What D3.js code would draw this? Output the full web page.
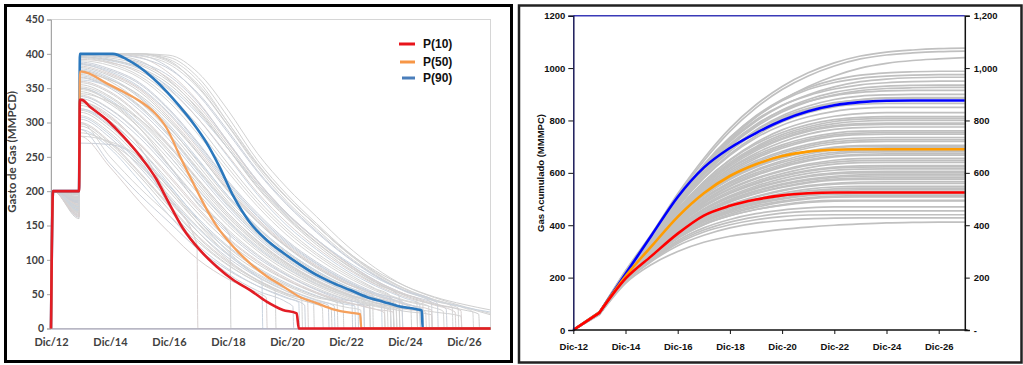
<!DOCTYPE html>
<html><head><meta charset="utf-8">
<script src="https://cdn.jsdelivr.net/npm/d3@7/dist/d3.min.js"></script>
<style>body{margin:0;background:#fff}svg{display:block}</style>
</head><body>
<svg id="c" width="1023" height="365"></svg>
<script>
// ---------------- DATA ----------------
// Left chart: gas rate (MMPCD); time in years after Dic/12
const rateXTicks = [0, 2, 4, 6, 8, 10, 12, 14];
const rateXLabels = ["Dic/12", "Dic/14", "Dic/16", "Dic/18", "Dic/20", "Dic/22", "Dic/24", "Dic/26"];
const rateYTicks = [0, 50, 100, 150, 200, 250, 300, 350, 400, 450];
const rateStepTimes = [0, 0.07, 0.95, 0.98];
const rateEndT = 14.9;

const rateP10 = [[0,0],[0.07,200],[0.95,200],[0.98,333],[1.04,333],[1.32,323],[1.89,304],[2.44,280],[3.02,251],[3.58,217],[3.92,189],[4.47,146],[5.05,114],[5.62,90],[6.17,71],[6.75,56],[7.31,39],[7.86,27],[8.33,22],[8.40,0],[14.9,0]];
const rateP50 = [[0,0],[0.07,200],[0.95,200],[0.98,374],[1.04,374],[1.89,357],[2.44,345],[3.02,331],[3.47,316],[3.92,292],[4.37,251],[4.82,212],[5.16,183],[5.62,149],[6.18,119],[6.75,95],[7.31,76],[7.88,61],[8.44,46],[9.0,37],[9.57,28],[10.14,23],[10.48,21],[10.52,0],[14.9,0]];
const rateP90 = [[0,0],[0.07,200],[0.95,200],[0.98,400],[2.1,400],[2.57,392],[3.02,380],[3.47,364],[3.92,345],[4.37,323],[4.82,299],[5.28,270],[5.73,234],[6.18,193],[6.75,154],[7.31,129],[7.88,110],[8.44,93],[9.0,78],[9.57,66],[10.14,56],[10.7,46],[11.26,39],[11.83,32],[12.4,28],[12.57,26],[12.6,0],[14.9,0]];

// simulated realizations: value at end of 2013 plateau, yearly values (Dic/13, Dic/14, ...), last point before shut-in [t, v]
const grayRatePre = [200,195,190,185,180,200,175,170,190,185,178,165,200,182,172,190,176,168,195,186,162,178,200,172,184,166,190,175,160,188,180,170,183,176,196,198,188,179,192,181,174,187,169,172,185,164,183,177,
  191,168,186,179,197,171,189,175,183,166,194,173,187,179,185,163,199,177,192,170];
const grayRateYearly = [
 [400,400,400,398,372,318,255,205,163,122,88,62,45,32],
 [400,400,400,392,360,300,240,190,150,112,80,57,40],
 [400,400,398,380,340,285,228,180,140,105,76,54],
 [400,400,395,372,330,272,215,168,130,97,70,50],
 [400,398,390,362,318,262,205,160,122,90,65],
 [398,392,380,350,305,250,195,150,115,85,62,44],
 [395,388,372,340,295,240,188,145,110,82,58],
 [390,383,365,330,282,228,178,136,103,76,55,40,30],
 [388,378,358,320,270,215,168,128,97,72,52],
 [385,372,350,312,262,207,160,122,92,68,50,37],
 [380,368,345,305,255,200,155,118,88,65],
 [378,365,338,297,246,193,148,112,84,62,45],
 [375,360,330,288,237,185,142,107,80,58,42,31,24],
 [370,355,325,282,230,180,137,103,77,56,41],
 [365,350,318,275,224,174,132,99,74,54],
 [360,345,312,268,217,168,128,96,71,52,38,28],
 [355,338,305,260,210,162,123,92,68,50,37],
 [350,333,298,252,202,156,118,88,65,48],
 [345,327,292,246,196,150,113,84,62,45,33,25],
 [340,320,285,238,188,144,108,80,59,43,32],
 [335,314,278,232,182,138,103,77,56,41],
 [330,308,270,224,175,132,99,73,53,39,28],
 [325,302,262,215,167,126,94,70,51,37],
 [320,296,255,208,160,120,89,66,48,35],
 [315,290,248,200,153,114,84,62,45],
 [310,285,242,194,147,109,80,58,42,31],
 [305,278,235,186,140,103,75,54,39],
 [300,272,228,180,134,98,71,51],
 [295,266,222,173,128,93,67,48,35],
 [290,262,215,165,120,87,62,44],
 [285,270,238,190,140,100,70],
 [280,272,250,205,152,108,76,54],
 [270,268,245,180,118,80,55,38],
 [330,310,265,190],
 [350,330,292,238,180],
 [320,300,262,210,158,112,75],
 [400,400,400,395,365,308,245,195,153,114,82,58,42,31],
 [400,400,397,385,350,295,235,185,145,108,78,55,40,30],
 [398,396,388,368,328,272,215,168,130,97,70,50,37],
 [392,387,375,348,305,252,198,154,118,88,64,46,34],
 [372,362,340,302,254,202,156,119,90,66,48,35],
 [362,352,330,292,244,193,148,112,84,62,45],
 [342,330,305,265,216,168,127,95,70,51,37],
 [300,250,205,165,125,92,68,50,36],
 [290,240,195,155,115,85,62,45],
 [280,235,185,140,100,72,52],
 [400,400,400,390,352,296,238,190,150,113,84,62,46,35],
 [396,390,378,352,312,262,210,166,130,99,74,55,41,31],
 [398,394,384,360,320,266,210,164,126,94,68,49],
 [394,386,368,335,288,234,183,141,107,79,57,41],
 [386,376,356,318,268,213,165,126,95,70,51],
 [382,370,348,308,258,204,158,120,90,66,48,35],
 [376,363,336,294,242,190,146,110,82,60,44],
 [368,353,322,280,228,178,135,101,75,55,40,30],
 [358,343,310,266,214,165,125,94,69,50],
 [352,336,302,257,206,158,120,90,66,48,35],
 [338,319,283,236,186,141,106,78,57,42],
 [328,306,268,221,172,130,97,71,52,38,28],
 [318,294,252,205,157,118,87,64,47],
 [308,282,240,191,145,107,78,57,41],
 [298,270,226,178,132,96,70,50],
 [400,400,399,388,355,300,240,191,150,112,81,58,42],
 [400,399,394,378,342,288,230,182,142,106,77,55,40],
 [400,397,386,364,324,270,213,167,129,96,69,50,36],
 [396,391,380,356,315,262,207,162,125,93,67,48,35,27],
 [384,374,352,314,265,210,163,124,94,69,50,36],
 [366,352,324,283,232,182,139,104,78,57,41],
 [348,331,296,252,201,154,116,87,64,47,34]
];
const grayRateEnd = [
 [14.9,22],[13.8,30],[12.9,38],[12.6,40],[11.8,48],[12.5,36],[11.5,48],[13.3,25],[11.6,42],[12.4,30],
 [10.9,50],[11.5,38],[13.9,18],[11.3,36],[10.6,44],[12.7,24],[11.8,30],[10.4,42],[12.9,20],[11.5,27],
 [10.2,40],[11.6,24],[10.8,33],[10.3,33],[9.7,38],[10.5,27],[9.4,34],[8.7,40],[9.5,29],[8.4,38],
 [7.6,55],[8.5,42],[8.2,32],[4.95,122],[6.07,135],[7.15,70],[14.9,20],[14.3,24],[13.4,28],[13.7,24],
 [12.2,30],[11.2,40],[11.9,26],[9.2,30],[8.6,34],[7.3,45],[14.9,27],[14.9,24],
 [12.4,44],[12.8,33],[11.9,40],[12.9,27],[11.7,36],[12.5,25],[10.8,40],[11.4,31],[10.6,34],[11.3,23],
 [9.9,36],[9.6,33],[8.9,37],[13.6,32],[13.1,36],[13.9,26],[14.5,21],[12.6,28],[11.6,33],[11.7,28]
];

// Right chart: cumulative gas (MMMPC), yearly from Dic-12
const cumXTicks = [0, 2, 4, 6, 8, 10, 12, 14];
const cumXLabels = ["Dic-12", "Dic-14", "Dic-16", "Dic-18", "Dic-20", "Dic-22", "Dic-24", "Dic-26"];
const cumYTicks = [0, 200, 400, 600, 800, 1000, 1200];
const cumYears = [0,1,2,3,4,5,6,7,8,9,10,11,12,13,14,15];
const cumP10 = [0,66,196,283,368,437,474,498,514,522,525,525,525,525,525,525];
const cumP50 = [0,67,205,320,432,522,588,633,664,681,688,690,690,690,690,690];
const cumP90 = [0,67,214,362,508,620,695,752,800,835,858,870,875,876,876,876];
const cumGray = [
 [0,67,226,368,520,655,770,860,930,982,1020,1046,1061,1069,1074,1076],
 [0,67,224,364,512,645,758,848,918,970,1008,1035,1050,1058,1063,1065],
 [0,66,220,354,496,622,728,812,878,930,970,1000,1018,1029,1035,1040],
 [0,67,222,358,504,632,735,815,875,918,945,961,969,973,975,975],
 [0,66,218,350,492,617,718,797,856,898,928,948,958,963,965,965],
 [0,66,220,354,498,624,724,802,858,895,920,936,944,948,950,950],
 [0,66,216,346,484,606,704,782,840,880,907,923,931,934,935,935],
 [0,67,219,352,492,614,710,785,838,873,895,907,913,915,915,915],
 [0,66,214,342,478,596,690,764,818,855,880,893,898,900,900,900],
 [0,66,216,345,482,598,690,760,812,846,868,879,884,885,885,885],
 [0,66,212,337,470,582,672,742,794,830,852,862,865,865,865,865],
 [0,66,214,340,472,580,667,734,782,814,835,846,850,850,850,850],
 [0,65,210,332,460,566,650,716,764,796,816,826,830,830,830,830],
 [0,66,212,336,462,566,648,710,754,784,803,812,815,815,815,815],
 [0,65,208,328,452,554,634,695,739,769,788,797,800,800,800,800],
 [0,66,210,332,455,555,632,690,732,762,780,788,790,790,790,790],
 [0,65,206,325,445,542,618,675,718,748,766,773,775,775,775,775],
 [0,65,208,328,448,543,615,668,707,735,752,759,760,760,760,760],
 [0,65,204,320,436,530,601,655,694,722,739,746,748,748,748,748],
 [0,65,206,322,438,528,596,646,682,709,726,733,735,735,735,735],
 [0,64,202,315,428,516,582,632,668,695,711,718,720,720,720,720],
 [0,65,204,318,430,515,578,625,658,683,698,704,705,705,705,705],
 [0,64,200,310,418,502,565,612,646,672,687,694,695,695,695,695],
 [0,64,202,312,420,500,558,600,632,657,672,679,680,680,680,680],
 [0,64,198,305,410,490,548,590,622,646,661,667,668,668,668,668],
 [0,64,200,307,410,486,540,580,610,633,648,654,655,655,655,655],
 [0,63,196,300,400,476,530,568,597,619,633,639,640,640,640,640],
 [0,64,198,302,400,472,524,562,590,610,622,627,628,628,628,628],
 [0,63,194,295,392,462,512,550,578,598,610,614,615,615,615,615],
 [0,63,196,296,390,458,505,540,566,585,596,600,600,600,600,600],
 [0,63,192,290,382,448,494,528,554,572,583,587,588,588,588,588],
 [0,63,194,290,380,444,488,520,544,562,572,575,575,575,575,575],
 [0,62,190,284,372,434,477,508,531,548,557,560,560,560,560,560],
 [0,63,192,286,370,430,470,500,522,538,546,548,548,548,548,548],
 [0,62,188,280,362,420,459,488,510,525,533,535,535,535,535,535],
 [0,62,190,280,360,416,453,480,500,513,519,520,520,520,520,520],
 [0,62,187,275,352,406,442,468,488,501,507,508,508,508,508,508],
 [0,62,188,276,350,402,436,460,478,490,495,495,495,495,495,495],
 [0,61,185,270,342,390,422,444,458,466,470,470,470,470,470,470],
 [0,61,186,268,336,382,412,432,446,453,455,455,455,455,455,455],
 [0,61,183,264,330,374,402,421,433,439,440,440,440,440,440,440],
 [0,60,184,262,322,362,390,408,418,424,427,428,428,428,428,428],
 [0,58,178,250,300,335,358,372,384,393,400,405,409,411,412,412],
 [0,66,211,334,458,560,640,700,746,776,796,805,808,808,808,808],
 [0,65,207,326,448,548,625,684,728,758,776,783,785,785,785,785],
 [0,65,205,324,442,536,608,661,700,728,745,752,754,754,754,754],
 [0,65,205,320,434,524,590,640,676,702,718,725,727,727,727,727],
 [0,64,203,316,428,512,575,622,656,680,695,701,702,702,702,702],
 [0,64,201,312,420,505,563,608,640,664,678,685,687,687,687,687],
 [0,64,199,308,414,494,552,594,626,650,664,671,673,673,673,673],
 [0,64,199,304,406,482,537,577,606,628,641,647,648,648,648,648],
 [0,63,197,300,398,470,521,558,586,606,618,622,623,623,623,623],
 [0,63,195,296,392,460,508,544,570,589,600,605,606,606,606,606],
 [0,63,193,292,386,452,498,532,558,576,587,592,593,593,593,593],
 [0,63,193,290,380,445,490,522,547,565,576,580,581,581,581,581],
 [0,62,191,286,374,437,480,510,534,551,560,565,566,566,566,566],
 [0,62,189,282,366,425,465,494,516,531,539,542,542,542,542,542],
 [0,62,189,280,360,418,456,484,504,518,525,527,527,527,527,527],
 [0,62,188,278,356,411,448,474,492,505,511,513,513,513,513,513],
 [0,61,187,274,350,402,436,460,476,487,492,493,493,493,493,493],
 [0,66,214,342,476,590,682,752,806,842,866,880,886,887,887,887],
 [0,66,216,346,482,602,700,776,832,872,898,914,922,925,926,926],
 [0,67,220,354,500,628,734,818,880,925,955,973,982,986,988,988]
];

// ---------------- DRAW ----------------
const svg = d3.select('#c');
const LF = 'Lato, "Open Sans", sans-serif';
const AF = '"Liberation Sans", Arial, sans-serif';

// ===== Left panel =====
const xL = d3.scaleLinear().domain([0, rateEndT]).range([51, 490.5]);
const yL = d3.scaleLinear().domain([0, 450]).range([328.5, 19.5]);
const gL = svg.append('g');

gL.append('rect').attr('x', xL(0)).attr('y', yL(450)).attr('width', xL(rateEndT) - xL(0)).attr('height', yL(0) - yL(450))
  .attr('fill', 'none').attr('stroke', '#d6d6d6').attr('stroke-width', 1);

const lineL = d3.line().x(d => xL(d[0])).y(d => yL(d[1])).curve(d3.curveMonotoneX);
const grayTints = ['#d2d2d2', '#d6d6d6', '#cbd0d9', '#d8d1d1', '#cfcfcf', '#cad4df'];
grayRateYearly.forEach((ys, i) => {
  const pts = [[rateStepTimes[0], 0], [rateStepTimes[1], 200], [rateStepTimes[2], grayRatePre[i]]];
  ys.forEach((v, k) => pts.push([k === 0 ? rateStepTimes[3] : k + 1, v]));
  const e = grayRateEnd[i];
  pts.push(e);
  if (e[0] < rateEndT - 0.05) { pts.push([e[0] + 0.03, 0]); pts.push([rateEndT, 0]); }
  gL.append('path').attr('d', lineL(pts)).attr('fill', 'none')
    .attr('stroke', grayTints[i % grayTints.length]).attr('stroke-width', 1);
});

// axes
const axL = gL.append('g').attr('transform', `translate(${xL(0)},0)`)
  .call(d3.axisLeft(yL).tickValues(rateYTicks).tickSize(4).tickPadding(3));
axL.select('.domain').attr('stroke', '#a6a6a6');
axL.selectAll('.tick line').attr('stroke', '#a6a6a6');
axL.selectAll('text').attr('font-family', LF).attr('font-weight', 700).attr('font-size', 10.5).attr('fill', '#404040');

const axB = gL.append('g').attr('transform', `translate(0,${yL(0)})`)
  .call(d3.axisBottom(xL).tickValues(rateXTicks).tickFormat((d, i) => rateXLabels[i]).tickSize(0).tickPadding(10));
axB.select('.domain').attr('stroke', '#9a98b0');
axB.selectAll('text').attr('font-family', LF).attr('font-weight', 700).attr('font-size', 11).attr('fill', '#404040');

gL.append('path').attr('d', lineL(rateP90)).attr('fill', 'none').attr('stroke', '#2b78bd').attr('stroke-width', 2.6);
gL.append('path').attr('d', lineL(rateP50)).attr('fill', 'none').attr('stroke', '#f5a05c').attr('stroke-width', 2.3);
gL.append('path').attr('d', lineL(rateP10)).attr('fill', 'none').attr('stroke', '#e21d25').attr('stroke-width', 2.6);

gL.append('text').attr('transform', `translate(16,152) rotate(-90)`).attr('text-anchor', 'middle')
  .attr('font-family', LF).attr('font-weight', 700).attr('font-size', 11.5).attr('fill', '#404040')
  .text('Gasto de Gas (MMPCD)');

// legend
const legItems = [{k: 'P(10)', c: '#e8141b', x0: 399, y: 44}, {k: 'P(50)', c: '#f79646', x0: 400, y: 62}, {k: 'P(90)', c: '#4a7ebb', x0: 402, y: 78}];
legItems.forEach(d => {
  gL.append('line').attr('x1', d.x0).attr('x2', 415).attr('y1', d.y).attr('y2', d.y).attr('stroke', d.c).attr('stroke-width', 3);
  gL.append('text').attr('x', 423).attr('y', d.y + 4.3).attr('font-family', AF).attr('font-weight', 700).attr('font-size', 12)
    .attr('fill', '#111').text(d.k);
});

// left frame
svg.append('rect').attr('x', 5.5).attr('y', 5.5).attr('width', 506).attr('height', 356).attr('fill', 'none')
  .attr('stroke', '#000').attr('stroke-width', 3);

// ===== Right panel =====
const xR = d3.scaleLinear().domain([0, 15]).range([573.3, 964.8]);
const yR = d3.scaleLinear().domain([0, 1200]).range([330, 15.7]);
const gR = svg.append('g');
const monoR = d3.line().x(d => xR(d[0])).y(d => yR(d[1])).curve(d3.curveMonotoneX);
// first year is a straight segment, the rest a smooth curve
function cumPath(arr) {
  const pts = arr.map((v, i) => [cumYears[i], v]);
  return `M${xR(pts[0][0])},${yR(pts[0][1])}` + monoR(pts.slice(1)).replace(/^M/, 'L');
}

cumGray.forEach(arr => {
  gR.append('path').attr('d', cumPath(arr)).attr('fill', 'none').attr('stroke', '#c0c0c0').attr('stroke-width', 1.7);
});
gR.append('path').attr('d', cumPath(cumP90)).attr('fill', 'none').attr('stroke', '#0000ff').attr('stroke-width', 2.6);
gR.append('path').attr('d', cumPath(cumP50)).attr('fill', 'none').attr('stroke', '#ff9c00').attr('stroke-width', 2.6);
gR.append('path').attr('d', cumPath(cumP10)).attr('fill', 'none').attr('stroke', '#ff0000').attr('stroke-width', 2.6);

// top border
gR.append('line').attr('x1', xR(0)).attr('x2', xR(15)).attr('y1', yR(1200)).attr('y2', yR(1200))
  .attr('stroke', '#3a3ab8').attr('stroke-width', 1.5);

const axRL = gR.append('g').attr('transform', `translate(${xR(0)},0)`)
  .call(d3.axisLeft(yR).tickValues(cumYTicks).tickSize(5).tickPadding(3).tickFormat(d3.format('d')));
axRL.select('.domain').attr('stroke', '#1c1c5a').attr('stroke-width', 1.5);
axRL.selectAll('.tick line').attr('stroke', '#111');
axRL.selectAll('text').attr('font-family', AF).attr('font-weight', 700).attr('font-size', 9.5).attr('fill', '#111');

const axRR = gR.append('g').attr('transform', `translate(${xR(15)},0)`)
  .call(d3.axisRight(yR).tickValues(cumYTicks).tickSize(5).tickPadding(4).tickFormat(d => d === 0 ? '-' : d3.format(',')(d)));
axRR.select('.domain').attr('stroke', '#111').attr('stroke-width', 1.5);
axRR.selectAll('.tick line').attr('stroke', '#111');
axRR.selectAll('text').attr('font-family', AF).attr('font-weight', 700).attr('font-size', 9.5).attr('fill', '#111');

const axRB = gR.append('g').attr('transform', `translate(0,${yR(0)})`)
  .call(d3.axisBottom(xR).tickValues(cumXTicks).tickFormat((d, i) => cumXLabels[i]).tickSize(4).tickPadding(9));
axRB.select('.domain').remove();
axRB.selectAll('.tick line').attr('stroke', '#111');
axRB.selectAll('text').attr('font-family', AF).attr('font-weight', 700).attr('font-size', 9.5).attr('fill', '#111');
gR.append('line').attr('x1', xR(0)).attr('x2', 967.5).attr('y1', yR(0)).attr('y2', yR(0)).attr('stroke', '#111').attr('stroke-width', 1.5);

gR.append('text').attr('transform', `translate(544,173) rotate(-90)`).attr('text-anchor', 'middle')
  .attr('font-family', AF).attr('font-weight', 700).attr('font-size', 9.5).attr('fill', '#111')
  .text('Gas Acumulado (MMMPC)');

svg.append('rect').attr('x', 519).attr('y', 5.5).attr('width', 502.5).attr('height', 357).attr('fill', 'none')
  .attr('stroke', '#222').attr('stroke-width', 2.5);
</script>
</body></html>
